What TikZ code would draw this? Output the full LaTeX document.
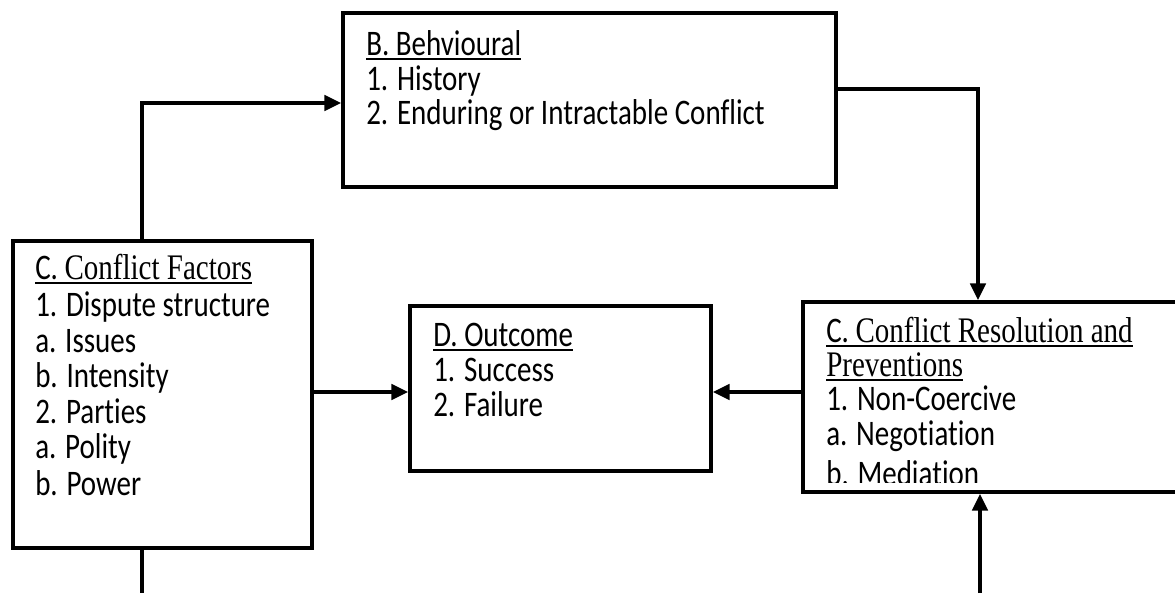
\documentclass[tikz,border=0pt]{standalone}
\usepackage{fontspec}
\setmainfont{Carlito}[Ligatures={NoCommon,NoRare,NoContextual}]
\newfontfamily\tms{Liberation Serif}[Ligatures={NoCommon}]
\usetikzlibrary{arrows.meta,fit}
\newcommand\tx[1]{\scalebox{1}[1.24]{#1}}
\newcommand\myul[1]{\setbox0\hbox{\tx{#1}}\rlap{\rule[-3.4pt]{\wd0}{1.5pt}}\box0}
\begin{document}
\begin{tikzpicture}[x=0.75pt,y=-0.75pt,
  box/.style={draw, line width=2.8pt, inner sep=0pt},
  arr/.style={line width=2.7pt, -{Triangle[length=12.5pt,width=11.5pt]}},
  plain/.style={line width=2.7pt},
  txt/.style={anchor=base west, inner sep=0pt, font=\fontsize{21.75pt}{26.6pt}\selectfont}]
\clip (0,0) rectangle (1175,593);
% boxes
\node[box, fit={(343,13) (836,187)}] (B) {};
\node[box, fit={(13,241) (312,548)}] (CF) {};
\node[box, fit={(410,306) (711,471)}] (D) {};
\node[box, fit={(803,302) (1200,492)}] (CR) {};
% texts
\node[txt] (Bt1) at (366,55) {\myul{B. Behvioural}};
\node[txt] (Bt2) at (366,90) {\tx{1. History}};
\node[txt] (Bt3) at (366,124) {\tx{2. Enduring or Intractable Conflict}};
\node[txt] (CFt1) at (35,279) {\myul{C. {\tms Conflict Factors}}};
\node[txt] (CFt2) at (35,316) {\tx{1. Dispute structure}};
\node[txt] (CFt3) at (35,352) {\tx{a. Issues}};
\node[txt] (CFt4) at (35,387) {\tx{b. Intensity}};
\node[txt] (CFt5) at (35,423) {\tx{2. Parties}};
\node[txt] (CFt6) at (35,458) {\tx{a. Polity}};
\node[txt] (CFt7) at (35,495) {\tx{b. Power}};
\node[txt] (Dt1) at (433,346) {\myul{D. Outcome}};
\node[txt] (Dt2) at (433,381) {\tx{1. Success}};
\node[txt] (Dt3) at (433,416) {\tx{2. Failure}};
\node[txt] (CRt1) at (826,342) {\myul{C. {\tms Conflict Resolution and}}};
\node[txt] (CRt2) at (826,376) {\myul{\tms Preventions}};
\node[txt] (CRt3) at (826,410) {\tx{1. Non-Coercive}};
\node[txt] (CRt4) at (826,445) {\tx{a. Negotiation}};
\begin{scope}
  \clip (805,440) rectangle (1175,482);
  \node[txt] (CRt5) at (826,485) {\tx{b. Mediation}};
\end{scope}
% connector points
\coordinate (e1) at (142,103);
\coordinate (e2) at (978,89);
\coordinate (ym) at (0,392);
\coordinate (e3) at (980,593);
\coordinate (e4) at (142,593);
% connectors
\draw[arr] (CF.north -| e1) -- (e1) -- (B.west |- e1);
\draw[arr] (B.east |- e2) -- (e2) -- (CR.north -| e2);
\draw[arr] (CF.east |- ym) -- (D.west |- ym);
\draw[arr] (CR.west |- ym) -- (D.east |- ym);
\draw[arr] (e3) -- (CR.south -| e3);
\draw[plain] (CF.south -| e4) -- (e4);
\end{tikzpicture}
\end{document}
